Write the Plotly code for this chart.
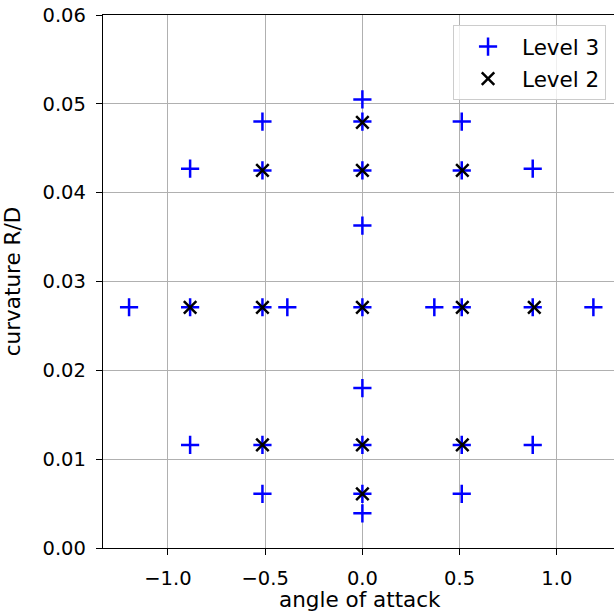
import plotly.graph_objects as go

# Level 3 design points (angle of attack, curvature R/D)
level3_x = [-1.2,
            -0.886, -0.886, -0.886,
            -0.514, -0.514, -0.514, -0.514, -0.514,
            -0.386,
            0.0, 0.0, 0.0, 0.0, 0.0, 0.0, 0.0, 0.0, 0.0,
            0.370,
            0.511, 0.511, 0.511, 0.511, 0.511,
            0.876, 0.876, 0.876,
            1.188]
level3_y = [0.0271,
            0.0427, 0.0271, 0.0116,
            0.0480, 0.0425, 0.0271, 0.0116, 0.0061,
            0.0271,
            0.0505, 0.0480, 0.0425, 0.0363, 0.0271, 0.0180, 0.0116, 0.0061, 0.0039,
            0.0271,
            0.0480, 0.0425, 0.0271, 0.0116, 0.0061,
            0.0427, 0.0271, 0.0116,
            0.0271]

# Level 2 design points
level2_x = [-0.886,
            -0.514, -0.514, -0.514,
            0.0, 0.0, 0.0, 0.0, 0.0,
            0.514, 0.514, 0.514,
            0.884]
level2_y = [0.0271,
            0.0425, 0.0271, 0.0116,
            0.0479, 0.0425, 0.0271, 0.0116, 0.0061,
            0.0425, 0.0271, 0.0116,
            0.0271]

x_ticks = [-1.0, -0.5, 0.0, 0.5, 1.0]
y_ticks = [0.00, 0.01, 0.02, 0.03, 0.04, 0.05, 0.06]

FONT = "DejaVu Sans"
TICK_FS = 19.5
LABEL_FS = 21.5

fig = go.Figure()
fig.add_trace(go.Scatter(
    x=level3_x, y=level3_y, mode="markers", name="Level 3", legendgroup="l3",
    marker=dict(symbol="cross-thin", size=13, color="#0000ff",
                line=dict(color="#0000ff", width=2.5)),
))
fig.add_trace(go.Scatter(
    x=level2_x, y=level2_y, mode="markers", name="Level 2", legendgroup="l2",
    marker=dict(symbol="x-thin", size=12.5, color="#000000",
                line=dict(color="#000000", width=2.5)),
))

fig.update_layout(
    width=614, height=612,
    margin=dict(l=103, r=0, t=15, b=64),
    paper_bgcolor="white", plot_bgcolor="white",
    font=dict(family=FONT, size=TICK_FS, color="black"),
    showlegend=True,
    legend=dict(
        x=0.685, y=0.981, xanchor="left", yanchor="top",
        bgcolor="rgba(255,255,255,0.8)", bordercolor="#cccccc", borderwidth=1,
        font=dict(family=FONT, size=LABEL_FS),
        traceorder="grouped", tracegroupgap=1,
        itemwidth=58,
    ),
    xaxis=dict(
        range=[-1.334, 1.294], automargin=False,
        tickvals=x_ticks, tickformat=".1f",
        showgrid=True, gridcolor="#b0b0b0", gridwidth=1.3,
        zeroline=False,
        showline=True, linecolor="black", linewidth=1.4, mirror=True,
        ticks="outside", ticklen=6, tickwidth=1.3, tickcolor="black",
        ticklabelstandoff=6,
        tickfont=dict(size=TICK_FS),
    ),
    yaxis=dict(
        range=[0, 0.06], automargin=False,
        tickvals=y_ticks, tickformat=".2f",
        showgrid=True, gridcolor="#b0b0b0", gridwidth=1.3,
        zeroline=False,
        showline=True, linecolor="black", linewidth=1.4, mirror=False,
        ticks="outside", ticklen=6, tickwidth=1.3, tickcolor="black",
        ticklabelstandoff=6,
        tickfont=dict(size=TICK_FS),
        title=dict(text="curvature R/D", standoff=15, font=dict(size=LABEL_FS)),
    ),
    annotations=[dict(
        text="angle of attack", xref="paper", yref="paper",
        x=0.503, y=0, xanchor="center", yanchor="top", yshift=-37,
        showarrow=False, font=dict(family=FONT, size=LABEL_FS, color="black"),
    )],
)

fig.write_html(
    "out.html",
    config={"displayModeBar": False},
    post_script="document.body.style.margin='0';document.body.style.overflow='hidden';",
)
